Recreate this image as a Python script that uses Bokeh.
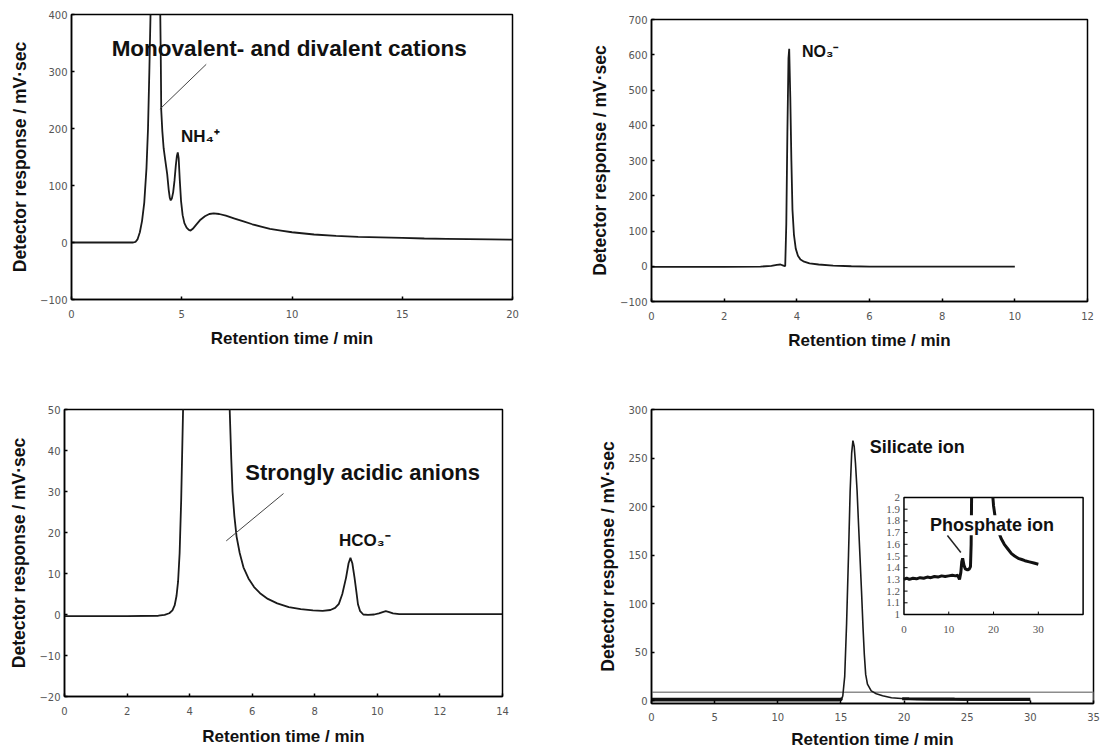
from bokeh.plotting import figure
from bokeh.layouts import column, row
from bokeh.models import Range1d, Label, LabelSet, ColumnDataSource, FixedTicker, Arrow
from bokeh.embed import file_html
from bokeh.resources import INLINE

NAN = float("nan")

# ---------------- data ----------------
# Panel 1: cations
t1 = [0, 1, 2, 2.5, 2.8, 2.9, 3.0, 3.1, 3.2, 3.3, 3.4, 3.47, 3.53, 3.6, 3.7, 3.8, 3.9, 3.97, 4.02, 4.05,
      4.07, 4.12, 4.18, 4.25, 4.34, 4.41, 4.46, 4.5, 4.55, 4.61, 4.67, 4.73, 4.78, 4.82, 4.86, 4.91, 4.97,
      5.04, 5.12, 5.22, 5.32, 5.4, 5.5, 5.65, 5.85, 6.05, 6.25, 6.45, 6.7, 7.0, 7.4, 7.8, 8.2, 8.6, 9.0,
      9.5, 10, 11, 12, 13, 14, 15, 16, 17, 18, 19, 20]
r1 = [0, 0, 0, 0, 0, 1, 6, 18, 38, 70, 130, 200, 300, 430, 600, 700, 650, 520, 420, 320,
      232, 195, 165, 145, 120, 92, 78, 74, 77, 88, 108, 135, 152, 158, 148, 110, 72,
      48, 34, 26, 22, 21, 24, 31, 40, 46, 50, 51, 50, 47, 42, 37, 32, 28, 24,
      21, 18, 14, 11.5, 10, 9, 8, 7, 6.5, 6, 5.5, 5]

# Panel 2: nitrate
t2 = [0, 1, 2, 3, 3.3, 3.45, 3.55, 3.63, 3.68, 3.71, 3.74, 3.77, 3.79, 3.82, 3.85, 3.88, 3.92, 3.97,
      4.03, 4.1, 4.2, 4.35, 4.6, 5.0, 5.5, 6, 7, 8, 9, 10]
r2 = [-2, -2, -2, -1, 1, 4, 5, 2, 0, 120, 380, 590, 617, 480, 300, 160, 90, 50,
      30, 19, 13, 8, 5, 2, 0, -1, -1, -1, -1, -1]

# Panel 3: anions
t3 = [0, 1, 2, 3, 3.2, 3.35, 3.45, 3.52, 3.58, 3.63, 3.68, 3.73, 3.79, 3.9, 4.2, 4.6, 5.0, 5.2, 5.28,
      5.33, 5.37, 5.43, 5.5, 5.6, 5.72, 5.88, 6.06, 6.25, 6.5, 6.8, 7.17, 7.55, 7.94, 8.25, 8.5, 8.65,
      8.77, 8.88, 9.0, 9.08, 9.14, 9.2, 9.27, 9.33, 9.38, 9.45, 9.55, 9.7, 9.9, 10.05, 10.17, 10.27,
      10.38, 10.5, 10.7, 11, 12, 13, 14]
r3 = [-0.4, -0.4, -0.4, -0.3, -0.1, 0.3, 1.0, 2.2, 4.5, 8, 15, 28, 50, 80, 100, 100, 90, 70, 50,
      38, 30, 24, 19, 15, 11.5, 8.8, 6.7, 5.2, 3.8, 2.7, 1.8, 1.3, 1.0, 0.9, 1.1, 1.6,
      2.6, 5, 9, 12.5, 13.8, 12.5, 9, 5.5, 2.5, 0.8, 0.0, -0.1, 0.0, 0.3, 0.6, 0.8,
      0.6, 0.3, 0.1, 0.1, 0.1, 0.1, 0.1]

# Panel 4: silicate (main)
t4 = [0, 5, 10, 14.8, 15.04, 15.15, 15.3, 15.45, 15.6, 15.73, 15.85, 15.95, 16.05, 16.15, 16.28,
      16.4, 16.52, 16.63, 16.75, 16.85, 16.96, 17.1, 17.4, 17.8, 18.3, 19.0, 20.3, 22, 25, 30]
r4 = [0, 0, 0, 0, 0.5, 5, 25, 80, 150, 216, 255, 268, 262, 245, 216,
      180, 145, 113, 75, 48, 27, 17, 10, 7, 5, 3, 1.7, 1, 0.6, 0.4]

# Panel 4 inset: phosphate (zoomed)
ti = [0, 0.6, 1.2, 2, 2.8, 3.6, 4.4, 5.2, 6, 6.8, 7.6, 8.4, 9.2, 10, 10.8, 11.5, 12.0, 12.4, 12.7,
      12.9, 13.1, 13.4, 13.7, 14.2, 14.6, 14.85, 15.0, 15.1, NAN, 19.85, 20.0, 20.4, 21.0, 21.7,
      22.4, 23.2, 24.0, 24.7, 25.5, 26.3, 27.0, 28.0, 29.0, 30.0]
ri = [1.30, 1.31, 1.30, 1.31, 1.305, 1.315, 1.31, 1.32, 1.315, 1.325, 1.32, 1.33, 1.325, 1.33,
      1.335, 1.33, 1.335, 1.30, 1.36, 1.45, 1.48, 1.42, 1.39, 1.38, 1.39, 1.41, 1.60, 2.0, NAN,
      2.0, 1.93, 1.82, 1.72, 1.65, 1.60, 1.56, 1.52, 1.50, 1.48, 1.47, 1.46, 1.45, 1.44, 1.43]

# axes
x1_ticks = [0, 5, 10, 15, 20]
y1_ticks = [-100, 0, 100, 200, 300, 400]
x2_ticks = [0, 2, 4, 6, 8, 10, 12]
y2_ticks = [-100, 0, 100, 200, 300, 400, 500, 600, 700]
x3_ticks = [0, 2, 4, 6, 8, 10, 12, 14]
y3_ticks = [-20, -10, 0, 10, 20, 30, 40, 50]
x4_ticks = [0, 5, 10, 15, 20, 25, 30, 35]
y4_ticks = [0, 50, 100, 150, 200, 250, 300]
inset_x_ticks = [0, 10, 20, 30]
inset_x_labels = ["0", "10", "20", "30"]
inset_y_ticks = [1.0, 1.1, 1.2, 1.3, 1.4, 1.5, 1.6, 1.7, 1.8, 1.9, 2.0]
inset_y_labels = ["1", "1.1", "1.2", "1.3", "1.4", "1.5", "1.6", "1.7", "1.8", "1.9", "2"]
inset_xlim = (0, 40)
inset_ylim = (1, 2)
zoom_box_x = (0, 35)
zoom_box_y = (-3, 8.5)

# annotations (text, x, y)  -- y is the vertical centre of the text
ann1 = ("Monovalent- and divalent cations", 1.82, 341)
lead1_x = [6.11, 4.01]
lead1_y = [312.6, 234]
ann1b = ("NH\u2084\u207a", 4.97, 186)
ann2 = ("NO\u2083\u207b", 4.14, 610)
ann3 = ("Strongly acidic anions", 5.78, 34.6)
lead3_x = [7.0, 5.17]
lead3_y = [29.5, 17.95]
ann3b = ("HCO\u2083\u207b", 8.77, 18.1)
ann4 = ("Silicate ion", 17.28, 261)
ann4b = ("Phosphate ion", 5.8, 1.763)
lead4_x = [9.7, 12.7]
lead4_y = [1.675, 1.53]

XLABEL = "Retention time / min"
YLABEL = "Detector response / mV\u00b7sec"

LINE_COLOR = "#1a1a1a"
TICK_FONT = "DejaVu Sans"
TITLE_FONT = "Liberation Sans"


def make_fig(w, h, xr, yr, xt, yt, bl, br, bt, bb, xls=10, xts=8):
    p = figure(width=w, height=h, x_range=Range1d(*xr), y_range=Range1d(*yr),
               output_backend="svg", toolbar_location=None, title=None,
               min_border_left=bl, min_border_right=br, min_border_top=bt, min_border_bottom=bb)
    p.xgrid.visible = False
    p.ygrid.visible = False
    p.outline_line_color = "black"
    p.outline_line_width = 1.5
    p.outline_line_alpha = 1.0
    p.background_fill_color = "white"
    p.border_fill_color = "white"
    p.xaxis.ticker = FixedTicker(ticks=xt)
    p.yaxis.ticker = FixedTicker(ticks=yt)
    for ax in p.axis:
        ax.axis_line_color = "black"
        ax.axis_line_width = 1.5
        ax.major_tick_in = 3
        ax.major_tick_out = 0
        ax.major_tick_line_width = 1.5
        ax.minor_tick_line_color = None
        ax.major_label_text_font = TICK_FONT
        ax.major_label_text_font_size = "10px"
        ax.major_label_text_color = "#555555"
        ax.axis_label_text_font = TITLE_FONT
        ax.axis_label_text_font_style = "bold"
        ax.axis_label_text_color = "#111111"
    p.xaxis.axis_label = XLABEL
    p.yaxis.axis_label = YLABEL
    p.xaxis.axis_label_text_font_size = "17px"
    p.yaxis.axis_label_text_font_size = "17.5px"
    p.xaxis.major_label_standoff = xls
    p.xaxis.axis_label_standoff = xts
    p.yaxis.major_label_standoff = 4
    p.yaxis.axis_label_standoff = 7
    return p


def add_label(p, ann, size, **kw):
    text, x, y = ann
    lab = Label(x=x, y=y, text=text, text_font=TITLE_FONT, text_font_size=size,
                text_font_style="bold", text_color="#111111", text_baseline="alphabetic", **kw)
    p.add_layout(lab)
    return lab


# ---------------- panel 1 ----------------
p1 = make_fig(575, 380, (0, 20), (-100, 400), x1_ticks, y1_ticks, 71, 63, 14, 81)
p1.line(t1, r1, line_color=LINE_COLOR, line_width=1.8)
p1.line(lead1_x, lead1_y, line_color="#444444", line_width=1)
add_label(p1, ann1, "22.5px")
add_label(p1, ann1b, "17px")

# ---------------- panel 2 ----------------
p2 = make_fig(529, 380, (0, 12), (-100, 700), x2_ticks, y2_ticks, 76, 17, 19, 79)
p2.line(t2, r2, line_color=LINE_COLOR, line_width=1.8)
add_label(p2, ann2, "16px")

# ---------------- panel 3 ----------------
p3 = make_fig(575, 373, (0, 14), (-20, 50), x3_ticks, y3_ticks, 64, 73, 29, 57, xls=10, xts=9)
p3.line(t3, r3, line_color=LINE_COLOR, line_width=1.8)
p3.line(lead3_x, lead3_y, line_color="#444444", line_width=1)
add_label(p3, ann3, "22px")
add_label(p3, ann3b, "17px")

# ---------------- panel 4 ----------------
p4 = make_fig(529, 373, (0, 35), (-3, 300), x4_ticks, y4_ticks, 76, 11, 29, 50, xls=9, xts=6)

# inset placement as fractions of the main frame (style)
fx0, fx1 = 0.5712, 0.9765
fy0, fy1 = 0.3027, 0.7007
sx = (inset_xlim[1] - inset_xlim[0]) / (fx1 - fx0)
sy = (inset_ylim[1] - inset_ylim[0]) / (fy1 - fy0)
p4.extra_x_ranges = {"ix": Range1d(inset_xlim[0] - fx0 * sx, inset_xlim[0] + (1 - fx0) * sx)}
p4.extra_y_ranges = {"iy": Range1d(inset_ylim[0] - fy0 * sy, inset_ylim[0] + (1 - fy0) * sy)}

p4.quad(left=[zoom_box_x[0]], right=[zoom_box_x[1]], bottom=[zoom_box_y[0]], top=[zoom_box_y[1]],
        fill_color=None, line_color="#8c8c8c", line_width=1.5)
p4.line(t4, r4, line_color=LINE_COLOR, line_width=1.6)
p4.line(ti, ri, line_color="#111111", line_width=3)
add_label(p4, ann4, "18px")

# inset frame
p4.quad(left=[inset_xlim[0]], right=[inset_xlim[1]], bottom=[inset_ylim[0]], top=[inset_ylim[1]],
        fill_color="white", line_color="black", line_width=1.5, x_range_name="ix", y_range_name="iy")
# inset ticks
tick_len_x = 0.8
tick_len_y = 0.025
p4.segment(x0=[inset_xlim[0]] * len(inset_y_ticks), x1=[inset_xlim[0] + tick_len_x] * len(inset_y_ticks),
           y0=inset_y_ticks, y1=inset_y_ticks, line_color="black", line_width=1,
           x_range_name="ix", y_range_name="iy")
xt_in = inset_x_ticks[1:]
p4.segment(x0=xt_in, x1=xt_in, y0=[inset_ylim[0]] * len(xt_in), y1=[inset_ylim[0] + tick_len_y] * len(xt_in),
           line_color="black", line_width=1, x_range_name="ix", y_range_name="iy")
src_y = ColumnDataSource(dict(x=[inset_xlim[0]] * len(inset_y_ticks), y=inset_y_ticks, t=inset_y_labels))
p4.add_layout(LabelSet(x="x", y="y", text="t", source=src_y, x_range_name="ix", y_range_name="iy",
                       x_offset=-4, text_align="right", text_baseline="middle",
                       text_font=TICK_FONT, text_font_size="11px", text_color="#555555"))
src_x = ColumnDataSource(dict(x=inset_x_ticks, y=[inset_ylim[0]] * len(inset_x_ticks), t=inset_x_labels))
p4.add_layout(LabelSet(x="x", y="y", text="t", source=src_x, x_range_name="ix", y_range_name="iy",
                       y_offset=-11, text_align="center", text_baseline="top",
                       text_font=TICK_FONT, text_font_size="11px", text_color="#555555"))
# inset data
p4.line(ti, ri, line_color="#111111", line_width=3, x_range_name="ix", y_range_name="iy")
add_label(p4, ann4b, "18px", x_range_name="ix", y_range_name="iy",
          background_fill_color="white")
# leader drawn on top of the label box
p4.add_layout(Arrow(end=None, x_start=lead4_x[0], y_start=lead4_y[0], x_end=lead4_x[1], y_end=lead4_y[1],
                    line_color="#222222", line_width=1.5, x_range_name="ix", y_range_name="iy"))

layout = row(column(column(p1), column(p3)), column(column(p2), column(p4)))
p = layout
open("out.html", "w").write(file_html(p, INLINE))
